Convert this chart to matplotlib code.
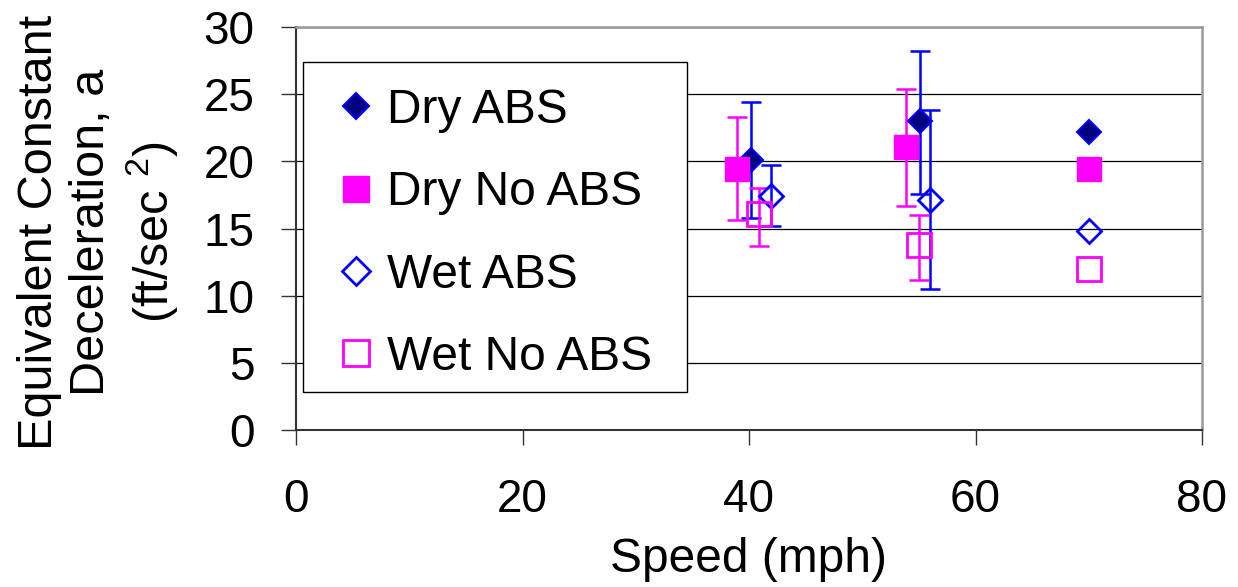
import numpy as np
import matplotlib
matplotlib.use('Agg')
import matplotlib.pyplot as plt
from matplotlib.patches import Rectangle

plt.rcParams['font.family'] = ['Liberation Sans', 'DejaVu Sans']
plt.rcParams['mathtext.default'] = 'regular'

# valores (velocidade mph, desaceleracao ft/s2)
dry_abs_x = [40.2, 55.1, 70.0]
dry_abs_y = [20.1, 23.0, 22.2]
dry_abs_hi = [24.4, 28.2]
dry_abs_lo = [15.8, 17.6]

dry_noabs_x = [38.9, 53.9, 70.0]
dry_noabs_y = [19.4, 21.1, 19.4]
dry_noabs_hi = [23.3, 25.4]
dry_noabs_lo = [15.6, 16.7]

wet_abs_x = [41.9, 56.0, 70.0]
wet_abs_y = [17.4, 17.1, 14.8]
wet_abs_hi = [19.7, 23.8]
wet_abs_lo = [15.2, 10.5]

wet_noabs_x = [40.9, 55.0, 70.0]
wet_noabs_y = [16.1, 13.8, 12.0]
wet_noabs_hi = [18.0, 16.0]
wet_noabs_lo = [13.7, 11.2]

blue = '#0000FF'
navy = '#000080'
mag = '#FF00FF'

fig = plt.figure(figsize=(12.38, 5.87), dpi=100)
ax = fig.add_axes([296/1238, 1-430/587, 906/1238, 403/587])


def barras(x, y, hi, lo, cor):
  n = len(hi)
  yy = np.array(y[:n])
  err = [yy - np.array(lo), np.array(hi) - yy]
  ax.errorbar(x[:n], yy, yerr=err, fmt='none', ecolor=cor, elinewidth=1.8,
              capsize=7.5, capthick=1.8, zorder=3)


barras(dry_abs_x, dry_abs_y, dry_abs_hi, dry_abs_lo, blue)
barras(dry_noabs_x, dry_noabs_y, dry_noabs_hi, dry_noabs_lo, mag)
barras(wet_abs_x, wet_abs_y, wet_abs_hi, wet_abs_lo, blue)
barras(wet_noabs_x, wet_noabs_y, wet_noabs_hi, wet_noabs_lo, mag)

ax.plot(dry_abs_x, dry_abs_y, 'D', ms=12, mfc=navy, mec=blue, mew=1.5,
        ls='none', label='Dry ABS', zorder=4)
ax.plot(dry_noabs_x, dry_noabs_y, 's', ms=17, mfc=mag, mec=mag, mew=1,
        ls='none', label='Dry No ABS', zorder=4)
ax.plot(wet_abs_x, wet_abs_y, 'D', ms=12.5, mfc='none', mec=blue, mew=2,
        ls='none', label='Wet ABS', zorder=4)
ax.plot(wet_noabs_x, wet_noabs_y, 's', ms=17, mfc='none', mec=mag, mew=2,
        ls='none', label='Wet No ABS', zorder=4)

ax.set_xlim(0, 80)
ax.set_ylim(0, 30)
ax.set_xticks([0, 20, 40, 60, 80])
ax.set_yticks([0, 5, 10, 15, 20, 25, 30])
ax.yaxis.grid(True, color='black', lw=0.9)
ax.set_axisbelow(True)

for s in ['left', 'bottom']:
  ax.spines[s].set_color('#333333')
  ax.spines[s].set_linewidth(1.5)
for s in ['top', 'right']:
  ax.spines[s].set_color('#999999')
  ax.spines[s].set_linewidth(1.8)

ax.tick_params(axis='both', direction='out', length=10.8, width=1, color='#333333',
               labelsize=33)
ax.tick_params(axis='y', pad=19)
ax.tick_params(axis='x', pad=24)

ax.set_xlabel('Speed (mph)', fontsize=34.5)
ax.xaxis.set_label_coords(0.5, -0.265)
ax.set_ylabel('Equivalent Constant\nDeceleration, a\n(ft/sec $^{2}$)', fontsize=35,
              linespacing=1.22)
ax.yaxis.set_label_coords(-0.128, 0.49)

# caixa da legenda desenhada a parte
caixa = Rectangle((0.008, 0.0935), 0.424, 0.8205, transform=ax.transAxes,
                  facecolor='white', edgecolor='black', lw=1, zorder=5)
ax.add_patch(caixa)

leg = ax.legend(loc='upper left', bbox_to_anchor=(0.008, 0.914), borderaxespad=0,
                fontsize=34.5, frameon=False,
                handlelength=1.1, handletextpad=0.1, borderpad=0.55,
                labelspacing=0.78, numpoints=1, markerscale=1.1)
leg.set_zorder(6)

plt.savefig('out.png', dpi=100)
